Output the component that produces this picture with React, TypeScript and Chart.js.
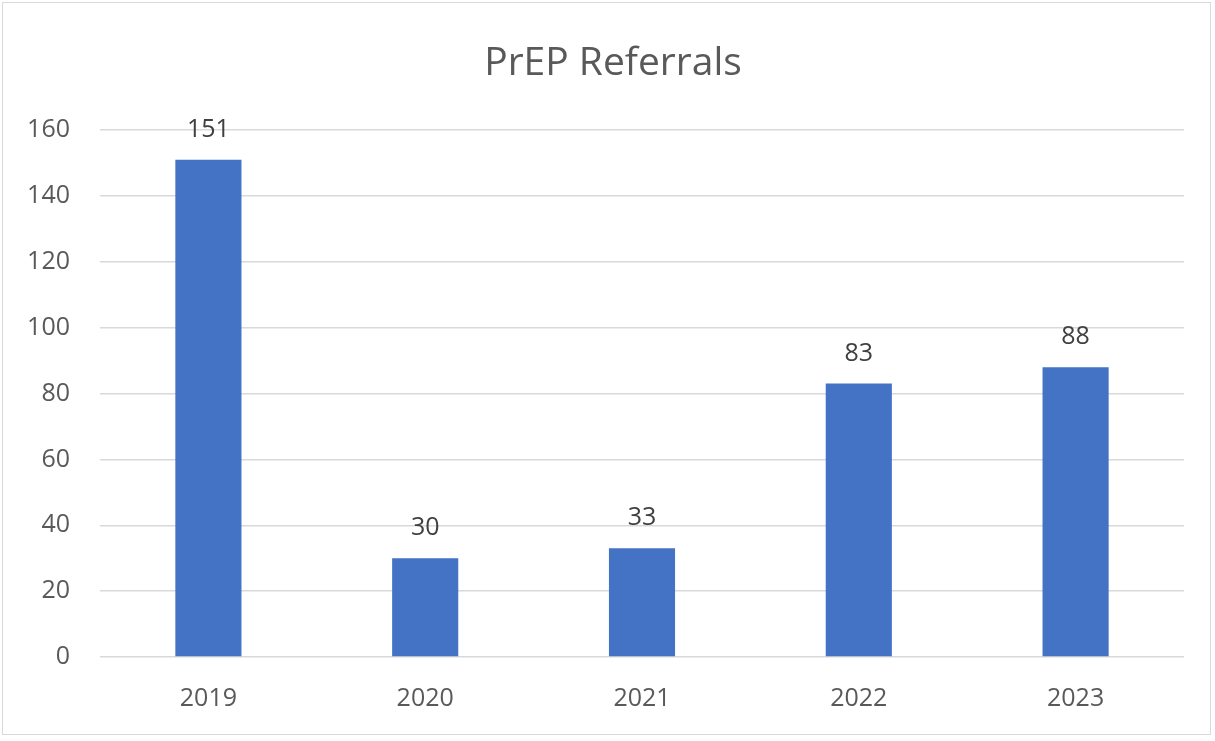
import React, { useEffect, useRef } from "react";
import { Chart, registerables } from "chart.js";

Chart.register(...registerables);

const title = "PrEP Referrals";
const categories = ["2019", "2020", "2021", "2022", "2023"];
const referrals = [151, 30, 33, 83, 88];
const yMax = 160;
const yStep = 20;

const FONT = "'Open Sans', 'Liberation Sans', sans-serif";

const labelsPlugin = {
  id: "barLabels",
  afterDatasetsDraw(chart: any) {
    const ctx = chart.ctx;
    const meta = chart.getDatasetMeta(0);
    ctx.save();
    ctx.font = `25px ${FONT}`;
    ctx.fillStyle = "#404040";
    ctx.textAlign = "center";
    ctx.textBaseline = "alphabetic";
    meta.data.forEach((bar: any, i: number) => {
      ctx.fillText(String(referrals[i]), bar.x, bar.y - 23);
    });
    ctx.restore();
  },
};

const titlePlugin = {
  id: "customTitle",
  afterDraw(chart: any) {
    const ctx = chart.ctx;
    ctx.save();
    ctx.font = `39px ${FONT}`;
    ctx.fillStyle = "#595959";
    ctx.textAlign = "center";
    ctx.textBaseline = "alphabetic";
    ctx.fillText(title, 613, 75);
    ctx.restore();
  },
};

export default function App() {
  const ref = useRef<HTMLCanvasElement | null>(null);
  useEffect(() => {
    document.body.style.margin = "0";
    const chart = new Chart(ref.current as HTMLCanvasElement, {
      type: "bar",
      data: {
        labels: categories,
        datasets: [
          {
            data: referrals,
            backgroundColor: "#4472C4",
            barPercentage: 0.305,
            categoryPercentage: 1,
          },
        ],
      },
      options: {
        animation: false,
        responsive: false,
        maintainAspectRatio: false,
        layout: { padding: { left: 0, right: 31, top: 130, bottom: 0 } },
        plugins: {
          legend: { display: false },
          title: { display: false },
          tooltip: { enabled: false },
        },
        scales: {
          x: {
            grid: { display: false },
            border: { display: false },
            ticks: {
              color: "#595959",
              font: { family: FONT, size: 25 },
              padding: 19,
            },
            afterFit(scale: any) {
              scale.height = 84;
            },
          },
          y: {
            min: 0,
            max: yMax,
            grid: { color: "#d9d9d9", lineWidth: 1.5, drawTicks: false },
            border: { display: false },
            ticks: {
              stepSize: yStep,
              color: "#595959",
              font: { family: FONT, size: 25 },
              padding: 30,
            },
            afterFit(scale: any) {
              scale.width = 100;
            },
          },
        },
      },
      plugins: [labelsPlugin, titlePlugin],
    });
    return () => chart.destroy();
  }, []);

  return (
    <div
      style={{
        position: "absolute",
        left: 0,
        top: 0,
        width: 1215,
        height: 741,
        background: "#fff",
      }}
    >
      <div
        style={{
          position: "absolute",
          left: 2,
          top: 2,
          width: 1209,
          height: 733,
          border: "1.5px solid #d9d9d9",
          boxSizing: "border-box",
        }}
      />
      <canvas
        ref={ref}
        width={1215}
        height={741}
        style={{ position: "absolute", left: 0, top: 0, width: 1215, height: 741 }}
      />
    </div>
  );
}
